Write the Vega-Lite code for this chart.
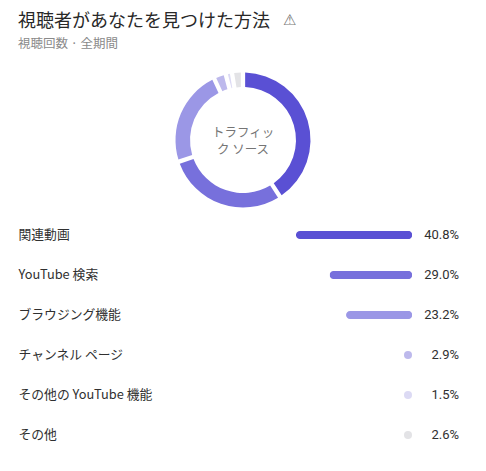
{"$schema":"https://vega.github.io/schema/vega-lite/v6.json","padding":{"top":12,"left":0,"right":0,"bottom":0},"background":"#ffffff","autosize":{"type":"pad"},"bounds":"flush","spacing":0,"title":{"text":"視聴者があなたを見つけた方法","subtitle":"視聴回数 · 全期間","anchor":"start","frame":"group","dx":18,"dy":0,"offset":-37,"font":"Noto Sans CJK JP","fontSize":18,"fontWeight":400,"color":"#282828","subtitleFont":"Noto Sans CJK JP","subtitleFontSize":12.5,"subtitleColor":"#8a8a8a","subtitlePadding":7},"data":{"values":[{"category":"関連動画","share":40.8,"label":"40.8%","order":1},{"category":"YouTube 検索","share":29.0,"label":"29.0%","order":2},{"category":"ブラウジング機能","share":23.2,"label":"23.2%","order":3},{"category":"チャンネル ページ","share":2.9,"label":"2.9%","order":4},{"category":"その他の YouTube 機能","share":1.5,"label":"1.5%","order":5},{"category":"その他","share":2.6,"label":"2.6%","order":6}]},"vconcat":[{"width":486,"height":150,"title":{"text":"⚠","anchor":"start","dx":283,"dy":-33,"font":"DejaVu Sans","fontSize":15,"fontWeight":400,"color":"#777777"},"layer":[{"mark":{"type":"arc","outerRadius":67.5,"innerRadius":53,"padAngle":0.05},"encoding":{"theta":{"field":"share","type":"quantitative","stack":true},"order":{"field":"order","type":"quantitative"},"color":{"field":"category","type":"nominal","sort":null,"legend":null,"scale":{"domain":["関連動画","YouTube 検索","ブラウジング機能","チャンネル ページ","その他の YouTube 機能","その他"],"range":["#5a50d4","#7770dc","#9b97e6","#bdb9ec","#dcdaf4","#e3e3e6"]}}}},{"data":{"values":[{"center":"トラフィッ\nク ソース"}]},"mark":{"type":"text","lineBreak":"\n","font":"Noto Sans CJK JP","fontSize":12.5,"color":"#757575","align":"center","baseline":"middle","lineHeight":17,"dy":-7},"encoding":{"text":{"field":"center","type":"nominal"}}}]},{"width":486,"height":240,"encoding":{"y":{"field":"category","type":"nominal","sort":null,"title":null,"scale":{"paddingInner":0,"paddingOuter":0},"axis":{"domain":false,"ticks":false,"grid":false,"labelAlign":"left","labelPadding":-18,"labelFont":"Noto Sans CJK JP","labelFontSize":12.8,"labelColor":"#303030","labelLimit":300}},"color":{"field":"category","type":"nominal","sort":null,"legend":null,"scale":{"domain":["関連動画","YouTube 検索","ブラウジング機能","チャンネル ページ","その他の YouTube 機能","その他"],"range":["#5a50d4","#7770dc","#9b97e6","#bdb9ec","#dcdaf4","#e3e3e6"]}}},"layer":[{"transform":[{"filter":"datum.share >= 5"}],"mark":{"type":"bar","height":8,"cornerRadius":4},"encoding":{"x":{"field":"share","type":"quantitative","title":null,"axis":null,"scale":{"domain":[-26.02,144.87],"reverse":true,"nice":false,"zero":false}}}},{"mark":{"type":"point","shape":"circle","filled":true,"size":64,"opacity":1,"xOffset":-4},"encoding":{"x":{"datum":0,"type":"quantitative"}}},{"mark":{"type":"text","align":"right","baseline":"middle","font":"Roboto","fontSize":13,"color":"#303030"},"encoding":{"x":{"datum":-16.55,"type":"quantitative"},"text":{"field":"label","type":"nominal"},"color":{"value":"#303030"}}}]}],"config":{"view":{"stroke":null}}}
